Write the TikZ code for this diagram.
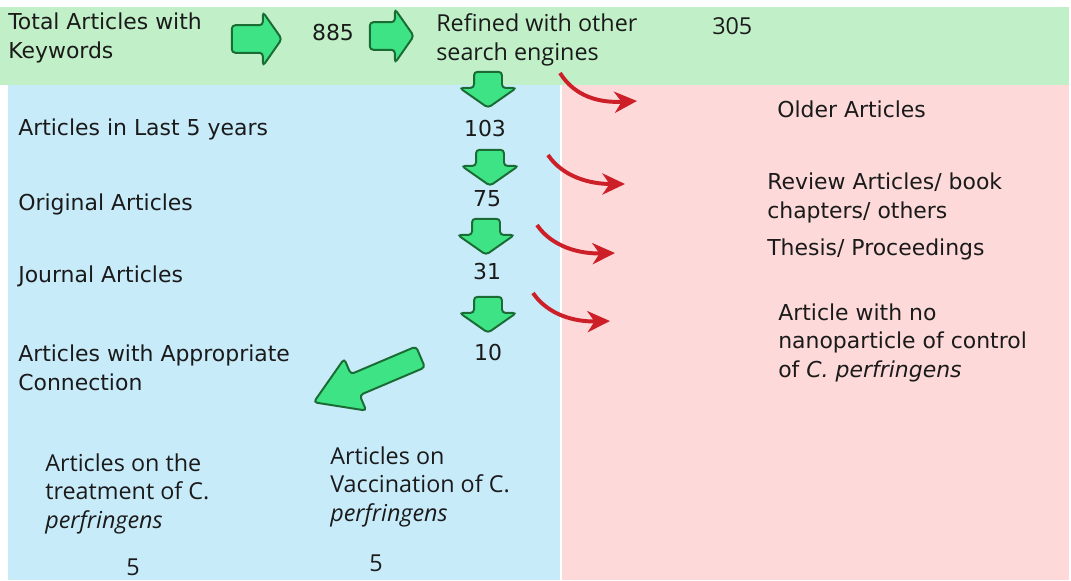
\documentclass[tikz,border=0pt]{standalone}
\usepackage{fontspec}
\setmainfont{DejaVu Sans}
\newfontfamily\aptos{Open Sans}
\usetikzlibrary{positioning}
\usetikzlibrary{shapes.arrows}
\usetikzlibrary{arrows.meta}
\definecolor{bandgreen}{HTML}{C1F0C8}
\definecolor{keptblue}{HTML}{C8EBFA}
\definecolor{droppink}{HTML}{FDD9D9}
\definecolor{arrowgreen}{HTML}{3DE384}
\definecolor{arrowedge}{HTML}{1B6B34}
\definecolor{dropred}{HTML}{CC1F27}
\definecolor{ink}{HTML}{1A1A1A}
\tikzset{
  txt/.style={anchor=base west, align=left, inner sep=0pt, text=ink, font=\fontsize{15.6}{20}\selectfont},
  atxt/.style={txt, font=\aptos\fontsize{16.6}{20}\selectfont},
  gblock/.style={single arrow, draw=arrowedge, fill=arrowgreen, line width=1.4pt, rounded corners=2.5pt,
    inner xsep=0pt, single arrow tip angle=110, anchor=tip},
  gdown/.style={gblock, rotate=-90, minimum height=0.9cm, inner ysep=0.325cm, single arrow head extend=0.36cm},
  rcurve/.style={draw=dropred, line width=2.8pt, -{Stealth[length=16pt,width=15pt,inset=5pt]}}
}

\begin{document}
\begin{tikzpicture}[x=0.025cm, y=-0.025cm]
  \useasboundingbox (0,0) rectangle (1071,580);
  \fill[bandgreen] (0,7) rectangle (1069,85);
  \fill[keptblue] (8,85) rectangle (560,580);
  \fill[droppink] (562,85) rectangle (1069,580);

  % multi-line labels sit on the baseline of their last line
  \node[txt] (total) at (8,58) {Total Articles with\\Keywords};
  \node[gblock, minimum height=1.25cm, inner ysep=0.32cm, single arrow head extend=0.33cm] (ga) at (283,39) {};
  \node[txt, anchor=base] (n885) at (333,40) {885};
  \node[gblock, minimum height=1.1cm, inner ysep=0.32cm, single arrow head extend=0.33cm] (gb) at (415,36) {};
  \node[atxt] (refined) at (436,60) {Refined with other\\search engines};
  \node[atxt] (n305) at (712,34) {305};

  \node[gdown] (d1) at (488,109) {};
  \node[txt] (last5) at (18,135) {Articles in Last 5 years};
  \node[txt, anchor=base] (n103) at (485,136) {103};
  \node[gdown] (d2) at (490,187) {};
  \node[txt] (orig) at (18,210) {Original Articles};
  \node[txt, anchor=base] (n75) at (487,206) {75};
  \node[gdown] (d3) at (486,256) {};
  \node[txt] (journal) at (18,282) {Journal Articles};
  \node[txt, anchor=base] (n31) at (487,279) {31};
  \node[gdown] (d4) at (488,334) {};
  \node[txt] (approp) at (18,390) {Articles with Appropriate\\Connection};
  \node[txt, anchor=base] (n10) at (488,360) {10};
  \node[gblock, rotate=203, minimum height=2.9cm, inner ysep=0.26cm, single arrow head extend=0.42cm,
    single arrow tip angle=64] (gbig) at (312,403) {};

  \node[atxt] (treat) at (45,528) {Articles on the\\treatment of C.\\\textit{perfringens}};
  \node[atxt, anchor=base] (n5a) at (133,575) {5};
  \node[atxt] (vacc) at (330,521) {Articles on\\Vaccination of C.\\\textit{perfringens}};
  \node[atxt, anchor=base] (n5b) at (376,571) {5};

  \node[txt] (older) at (777,117) {Older Articles};
  \node[txt] (review) at (767,218) {Review Articles/ book\\chapters/ others};
  \node[txt] (thesis) at (767,255) {Thesis/ Proceedings};
  \node[txt] (nonano) at (778,377) {Article with no\\nanoparticle of control\\of \textit{C. perfringens}};

  \coordinate (r1a) at (560,73);  \coordinate (r1b) at (637,101);
  \coordinate (r2a) at (548,155); \coordinate (r2b) at (625,184);
  \coordinate (r3a) at (537,225); \coordinate (r3b) at (615,253);
  \coordinate (r4a) at (533,293); \coordinate (r4b) at (610,321);
  \draw[rcurve] (r1a) .. controls (575,97) and (600,103) .. (r1b);
  \draw[rcurve] (r2a) .. controls (563,177) and (590,184) .. (r2b);
  \draw[rcurve] (r3a) .. controls (552,247) and (580,254) .. (r3b);
  \draw[rcurve] (r4a) .. controls (548,315) and (575,322) .. (r4b);
\end{tikzpicture}
\end{document}
